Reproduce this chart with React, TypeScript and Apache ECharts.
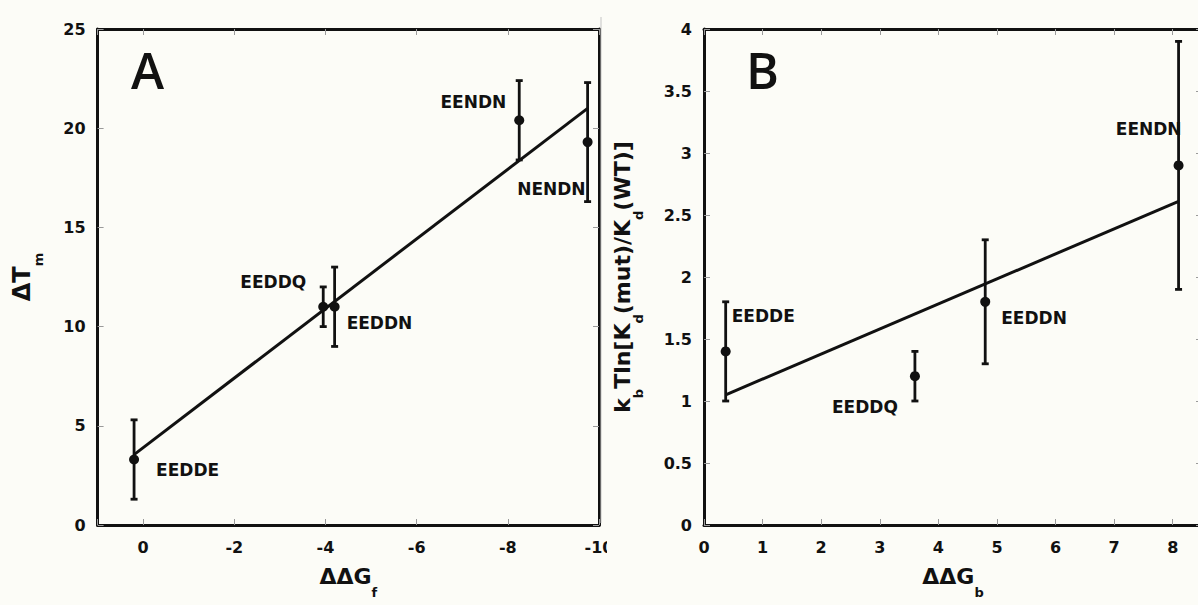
import React, { useEffect, useRef } from 'react';
import * as echarts from 'echarts';

// ---------- Panel A data ----------
const labelsA = ['EEDDE', 'EEDDQ', 'EEDDN', 'EENDN', 'NENDN'];
const ddGf = [0.2, -3.95, -4.2, -8.25, -9.75];
const dTm = [3.3, 11.0, 11.0, 20.4, 19.3];
const dTmErr = [2, 1, 2, 2, 3];
const fitAX = [0.2, -9.75];
const fitAY = [3.55, 21.0];
const xTicksA = { min: -10, max: 1, interval: 2 };
const yTicksA = { min: 0, max: 25, interval: 5 };

// ---------- Panel B data ----------
const labelsB = ['EEDDE', 'EEDDQ', 'EEDDN', 'EENDN'];
const ddGb = [0.37, 3.6, 4.8, 8.1];
const kTln = [1.4, 1.2, 1.8, 2.9];
const kTlnErr = [0.4, 0.2, 0.5, 1.0];
const fitBX = [0.37, 8.1];
const fitBY = [1.05, 2.61];
const xTicksB = { min: 0, max: 8.5, interval: 1 };
const yTicksB = { min: 0, max: 4, interval: 0.5 };

// ---------- label layout (styling only) ----------
const labelLayoutA = [
  { align: 'left', offset: [22, 10] },
  { align: 'right', offset: [-17, -25] },
  { align: 'left', offset: [12, 16] },
  { align: 'right', offset: [-13, -18] },
  { align: 'right', offset: [-2, 47] },
];
const labelLayoutB = [
  { align: 'left', offset: [6, -35] },
  { align: 'right', offset: [-17, 31] },
  { align: 'left', offset: [16, 16] },
  { align: 'right', offset: [3, -36] },
];

const FONT = '"DejaVu Sans", sans-serif';
const INK = '#111111';
const BG = '#fcfcf7';

const mainRich = (size: number) => ({
  fontFamily: FONT,
  fontWeight: 'bold',
  fontSize: size,
  color: INK,
  lineHeight: 46,
  verticalAlign: 'middle',
});
const subRich = {
  fontFamily: FONT,
  fontWeight: 'bold',
  fontSize: 13,
  color: INK,
  lineHeight: 14,
  verticalAlign: 'bottom',
};

const tickStyle = { inside: true, length: 6, lineStyle: { color: '#9a9a9a', width: 1 } };
const lineStyle = { show: true, onZero: false, lineStyle: { color: INK, width: 3 } };
const labelStyle = { fontFamily: FONT, fontWeight: 'bold', fontSize: 16, color: INK };

function xAxisPair(grid: number, ticks: any, inverse: boolean, name: string, z: number, fmt: (v: number) => string) {
  const base = {
    type: 'value',
    gridIndex: grid,
    min: ticks.min,
    max: ticks.max,
    interval: ticks.interval,
    inverse,
    z,
    axisLine: lineStyle,
    axisTick: tickStyle,
    splitLine: { show: false },
  };
  return [
    {
      ...base,
      position: 'bottom',
      axisLabel: { ...labelStyle, margin: 14, formatter: fmt },
      name,
      nameLocation: 'middle',
      nameGap: 28,
      nameTextStyle: { rich: { a: mainRich(22), s: subRich } },
    },
    { ...base, position: 'top', axisLabel: { show: false } },
  ];
}

function yAxisPair(grid: number, ticks: any, name: string, gap: number, size: number, z: number) {
  const base = {
    type: 'value',
    gridIndex: grid,
    min: ticks.min,
    max: ticks.max,
    interval: ticks.interval,
    z,
    axisLine: lineStyle,
    axisTick: tickStyle,
    splitLine: { show: false },
  };
  return [
    {
      ...base,
      position: 'left',
      axisLabel: { ...labelStyle, margin: 12 },
      name,
      nameLocation: 'middle',
      nameRotate: 90,
      nameGap: gap,
      nameTextStyle: { rich: { a: mainRich(size), s: subRich } },
    },
    { ...base, position: 'right', axisLabel: { show: false } },
  ];
}

function errorBars(xs: number[], ys: number[], errs: number[], xi: number, yi: number, z: number) {
  return {
    type: 'custom',
    xAxisIndex: xi,
    yAxisIndex: yi,
    z,
    data: xs.map((x, i) => [x, ys[i] - errs[i], ys[i] + errs[i]]),
    renderItem: (_p: any, api: any) => {
      const lo = api.coord([api.value(0), api.value(1)]);
      const hi = api.coord([api.value(0), api.value(2)]);
      const cap = 3.5;
      const style = { stroke: INK, lineWidth: 2.8 };
      return {
        type: 'group',
        children: [
          { type: 'line', shape: { x1: lo[0], y1: lo[1], x2: hi[0], y2: hi[1] }, style },
          { type: 'line', shape: { x1: lo[0] - cap, y1: lo[1], x2: lo[0] + cap, y2: lo[1] }, style },
          { type: 'line', shape: { x1: hi[0] - cap, y1: hi[1], x2: hi[0] + cap, y2: hi[1] }, style },
        ],
      };
    },
  };
}

function points(xs: number[], ys: number[], names: string[], layout: any[], xi: number, yi: number, z: number) {
  return {
    type: 'scatter',
    xAxisIndex: xi,
    yAxisIndex: yi,
    z,
    symbol: 'circle',
    symbolSize: 10,
    itemStyle: { color: INK, opacity: 1 },
    label: {
      show: true,
      position: 'inside',
      formatter: '{b}',
      fontFamily: FONT,
      fontWeight: 'bold',
      fontSize: 17,
      color: INK,
      verticalAlign: 'middle',
    },
    data: xs.map((x, i) => ({
      name: names[i],
      value: [x, ys[i]],
      label: { align: layout[i].align, offset: layout[i].offset },
    })),
  };
}

function fitLine(xs: number[], ys: number[], xi: number, yi: number, z: number) {
  return {
    type: 'line',
    xAxisIndex: xi,
    yAxisIndex: yi,
    z,
    symbol: 'none',
    lineStyle: { color: INK, width: 3 },
    data: xs.map((x, i) => [x, ys[i]]),
  };
}

const option: any = {
  animation: false,
  backgroundColor: BG,
  grid: [
    { left: 97.6, top: 29, width: 501.4, height: 496, outerBoundsMode: 'none', containLabel: false },
    { left: 704, top: 29, width: 498, height: 496, outerBoundsMode: 'none', containLabel: false },
  ],
  xAxis: [
    ...xAxisPair(0, xTicksA, true, '{a|ΔΔG}{s|f}', 0, (v: number) => (v > 0 ? '' : String(v))),
    ...xAxisPair(1, xTicksB, false, '{a|ΔΔG}{s|b}', 4, (v: number) => (Number.isInteger(v) ? String(v) : '')),
  ],
  yAxis: [
    ...yAxisPair(0, yTicksA, '{a|ΔT}{s|m}', 53, 24, 0),
    ...yAxisPair(1, yTicksB, '{a|k}{s|b}{a|Tln[K}{s|d}{a|(mut)/K}{s|d}{a|(WT)]}', 59, 22, 4),
  ],
  graphic: [
    { type: 'rect', z: 3, shape: { x: 607, y: 0, width: 600, height: 605 }, style: { fill: BG } },
    { type: 'line', z: 3, shape: { x1: 601, y1: 17, x2: 601, y2: 523 }, style: { stroke: '#c4c4c4', lineWidth: 1 } },
    {
      type: 'text', z: 10, x: 131, y: 70,
      style: { text: 'A', fontFamily: '"Open Sans", sans-serif', fontWeight: 600, fontSize: 50, fill: INK, textVerticalAlign: 'middle' },
    },
    {
      type: 'text', z: 10, x: 746, y: 70,
      style: { text: 'B', fontFamily: '"Open Sans", sans-serif', fontWeight: 600, fontSize: 50, fill: INK, textVerticalAlign: 'middle' },
    },
  ],
  series: [
    errorBars(ddGf, dTm, dTmErr, 0, 0, 2),
    fitLine(fitAX, fitAY, 0, 0, 2),
    points(ddGf, dTm, labelsA, labelLayoutA, 0, 0, 2),
    errorBars(ddGb, kTln, kTlnErr, 2, 2, 5),
    fitLine(fitBX, fitBY, 2, 2, 5),
    points(ddGb, kTln, labelsB, labelLayoutB, 2, 2, 6),
  ],
};

export default function App() {
  const ref = useRef<HTMLDivElement>(null);
  useEffect(() => {
    const chart = echarts.init(ref.current as HTMLDivElement, null, { renderer: 'svg' });
    chart.setOption(option);
    return () => chart.dispose();
  }, []);
  return (
    <div
      ref={ref}
      style={{ position: 'absolute', left: 0, top: 0, width: 1198, height: 605, background: BG }}
    />
  );
}
